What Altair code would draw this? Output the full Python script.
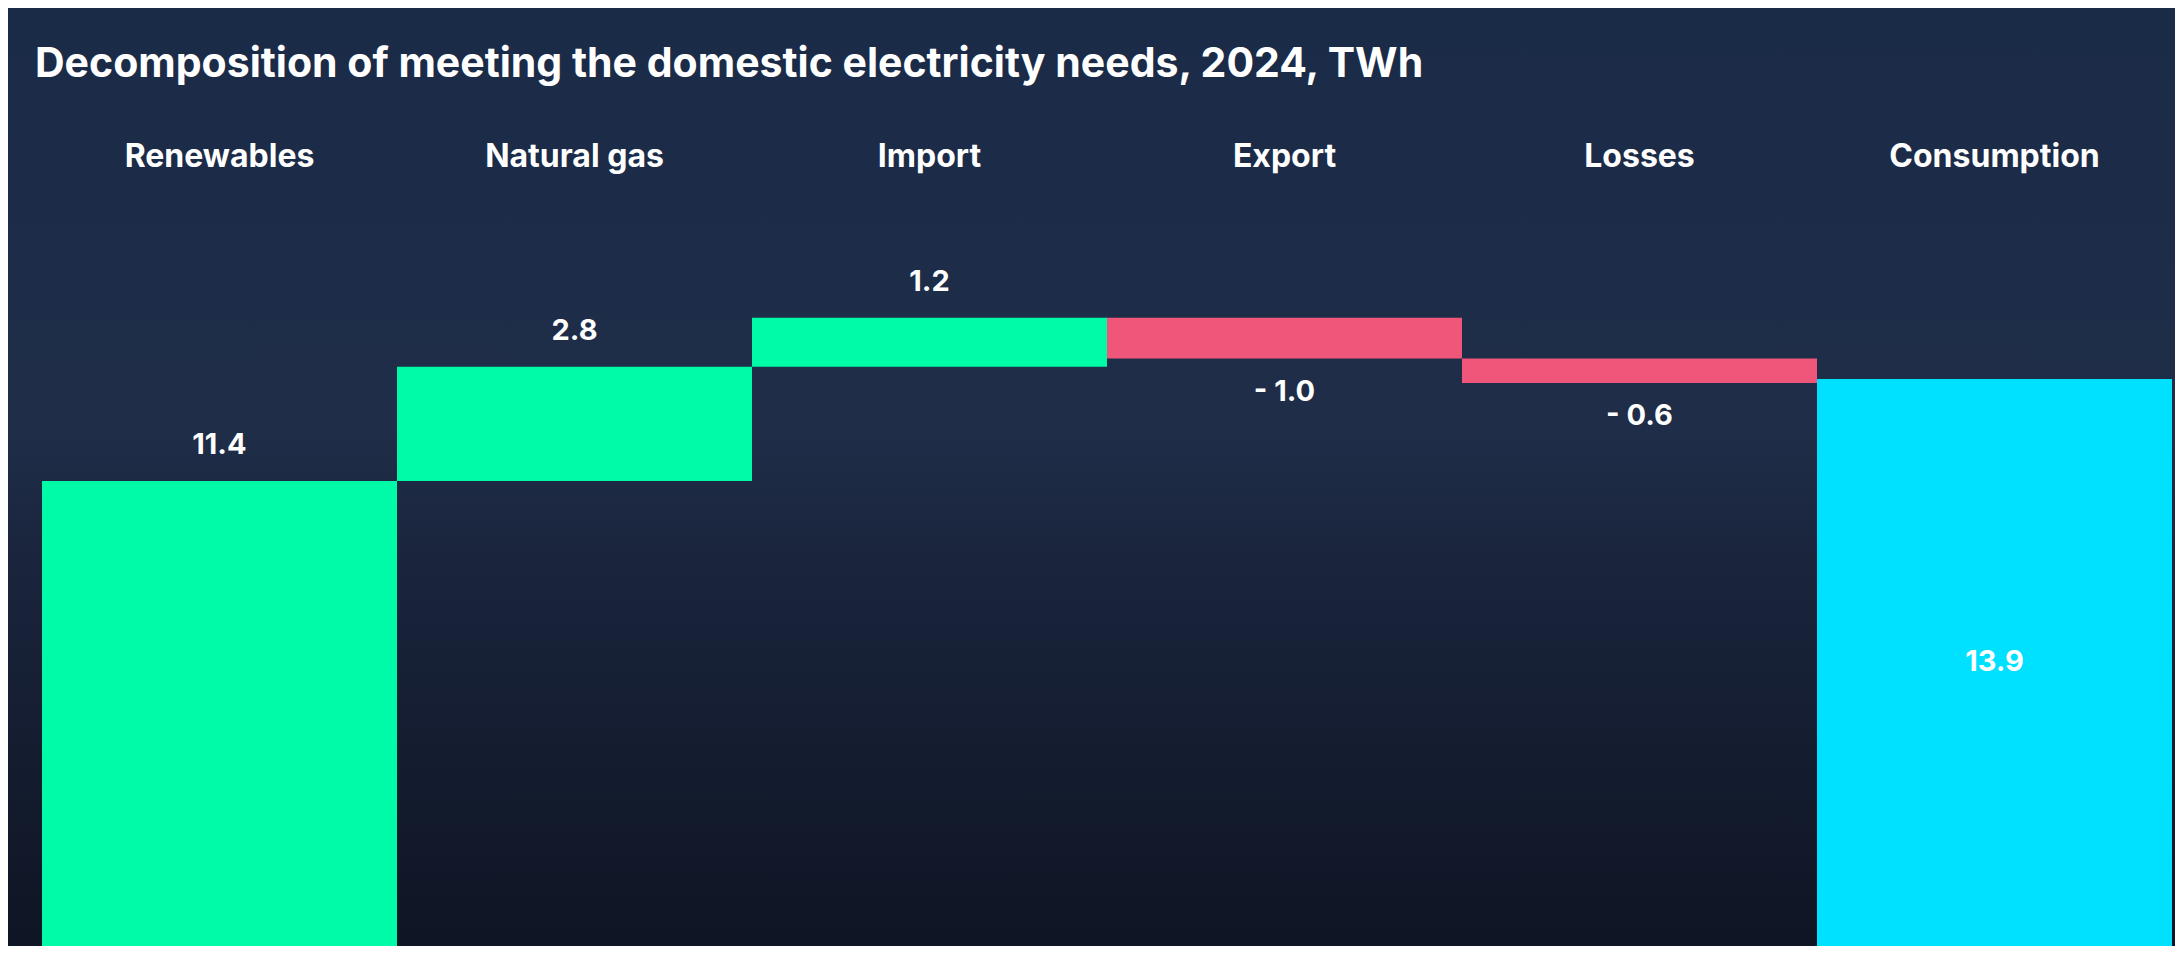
import altair as alt
import pandas as pd

categories = ["Renewables", "Natural gas", "Import", "Export", "Losses", "Consumption"]
values = [11.4, 2.8, 1.2, -1.0, -0.6, 13.9]
kinds = ["increase", "increase", "increase", "decrease", "decrease", "total"]

kind_domain = ["increase", "decrease", "total"]
kind_colors = ["#00FBA8", "#F0567A", "#00E0FF"]

rows = []
running = 0.0
for cat, val, kind in zip(categories, values, kinds):
    if kind == "total":
        start, end = 0.0, val
    else:
        start, end = running, running + val
        running = end
    if val < 0:
        label = f"- {abs(val):.1f}"
    else:
        label = f"{val:.1f}"
    rows.append({"category": cat, "value": val, "kind": kind, "start": start,
                 "end": end, "mid": (start + end) / 2, "label": label})
df = pd.DataFrame(rows)

FONT = "Inter"
W, H = 2130, 758
PAD_L, PAD_T = 34, 180

x_enc = alt.X("category:N", sort=categories,
              scale=alt.Scale(paddingInner=0, paddingOuter=0),
              axis=alt.Axis(orient="top", title=None, labelAngle=0, ticks=False,
                            domain=False, grid=False, labelFont=FONT,
                            labelFontSize=32, labelFontWeight="bold",
                            labelColor="white", labelPadding=22, labelLimit=0,
                            labelBaseline="alphabetic", zindex=2))
y_scale = alt.Scale(domain=[0, 18.58], nice=False, zero=False)

base = alt.Chart(df)

bg = alt.Chart(pd.DataFrame({"bg": [0]})).mark_rect(
    fill=alt.LinearGradient(
        gradient="linear", x1=0, x2=0, y1=0, y2=1,
        stops=[alt.GradientStop(offset=0, color="#1a2b48"),
               alt.GradientStop(offset=0.45, color="#1f2d48"),
               alt.GradientStop(offset=0.62, color="#19233a"),
               alt.GradientStop(offset=1, color="#0e1524")]),
    clip=False
).encode(x=alt.value(-PAD_L), x2=alt.value(W + 3), y=alt.value(-PAD_T), y2=alt.value(H))

bars = base.mark_bar().encode(
    x=x_enc,
    y=alt.Y("start:Q", scale=y_scale, axis=None),
    y2="end:Q",
    color=alt.Color("kind:N", scale=alt.Scale(domain=kind_domain, range=kind_colors), legend=None),
)

text_style = dict(font=FONT, fontSize=29, fontWeight="bold", color="white",
                  align="center", baseline="middle")

pos_labels = base.transform_filter(alt.datum.kind == "increase").mark_text(dy=-36, **text_style).encode(
    x=alt.X("category:N", sort=categories), y=alt.Y("end:Q", scale=y_scale), text="label:N")
neg_labels = base.transform_filter(alt.datum.kind == "decrease").mark_text(dy=33, **text_style).encode(
    x=alt.X("category:N", sort=categories), y=alt.Y("end:Q", scale=y_scale), text="label:N")
tot_labels = base.transform_filter(alt.datum.kind == "total").mark_text(**text_style).encode(
    x=alt.X("category:N", sort=categories), y=alt.Y("mid:Q", scale=y_scale), text="label:N")

chart = alt.layer(bg, bars, pos_labels, neg_labels, tot_labels).properties(
    width=W, height=H,
    autosize=alt.AutoSizeParams(type="none"),
    padding={"left": PAD_L, "top": PAD_T, "right": 3, "bottom": 0},
    background="#1a2b48",
    title=alt.TitleParams(
        text="Decomposition of meeting the domestic electricity needs, 2024, TWh",
        anchor="start", frame="group", dx=-7, offset=-110, baseline="alphabetic",
        font=FONT, fontSize=41, fontWeight="bold", color="white", zindex=2),
).configure_view(stroke=None)

chart.save("out.html", embed_options={"renderer": "svg", "actions": False})
